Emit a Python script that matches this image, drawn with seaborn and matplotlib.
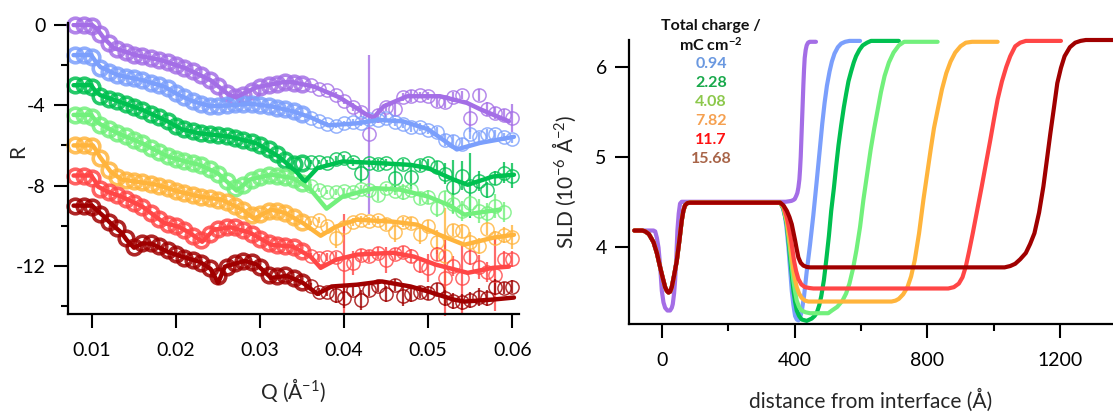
import numpy as np
import matplotlib
matplotlib.use("Agg")
import matplotlib.pyplot as plt
import seaborn as sns

# ---------------- data: reflectivity (left panel) ----------------
q_data = [0.008, 0.009, 0.010, 0.011, 0.012, 0.013, 0.014, 0.015, 0.016, 0.017,
          0.018, 0.019, 0.020, 0.021, 0.022, 0.023, 0.024, 0.025, 0.026, 0.027,
          0.028, 0.029, 0.030, 0.031, 0.032, 0.033, 0.034, 0.035, 0.036, 0.037,
          0.038, 0.039, 0.040, 0.041, 0.042, 0.043, 0.044, 0.045, 0.046, 0.047,
          0.048, 0.049, 0.050, 0.051, 0.052, 0.053, 0.054, 0.055, 0.056, 0.057,
          0.058, 0.059, 0.060]

r_purple = [0.0, 0.0, -0.05, -0.45, -0.9, -1.2, -1.35, -1.47, -1.55, -1.63,
            -1.72, -1.83, -1.97, -2.12, -2.3, -2.5, -2.72, -3.05, -3.38, -3.6,
            -3.5, -3.3, -3.1, -3.0, -2.92, -2.85, -2.88, -2.95, -3.0, -3.2,
            -3.25, -3.5, -3.8, -4.1, -4.35, -5.45, -4.5, -4.1, -4.2, -3.6,
            -3.55, -3.5, -3.55, -3.8, -3.85, -3.6, -3.5, -4.65, -3.5, -4.2,
            -4.4, -4.5, -4.65]
e_purple = [0] * 28 + [0, 0, 0, 0.15, 0.15, 0.2, 0.25, 3.95, 0.3, 0.2, 0.35, 0.2, 0.3,
                       0.15, 0.2, 0.3, 0.3, 0.25, 0.2, 0.7, 0.3, 0.35, 0.3, 0.3, 0.7]

r_blue = [-1.5, -1.5, -1.6, -2.12, -2.33, -2.47, -2.58, -2.66, -2.75, -2.87,
          -3.0, -3.15, -3.38, -3.6, -3.78, -3.93, -4.03, -4.02, -3.98, -3.95,
          -3.93, -3.92, -3.97, -4.03, -4.12, -4.2, -4.3, -4.42, -4.62, -4.8,
          -4.95, -5.05, -4.9, -4.85, -4.9, -4.7, -4.75, -4.65, -4.85, -4.95,
          -5.1, -5.1, -5.25, -5.35, -5.75, -5.8, -5.95, -5.45, -5.6, -5.45,
          -5.45, -5.6, -5.7]
e_blue = [0] * 28 + [0, 0, 0.1, 0.1, 0.1, 0.15, 0.15, 0.15, 0.15, 0.15, 0.2, 0.2, 0.25,
                     0.2, 0.2, 0.25, 0.3, 0.3, 0.3, 0.25, 0.25, 0.25, 0.2, 0.2, 0.2]

r_green = [-3.0, -3.0, -3.08, -3.55, -3.68, -3.79, -3.92, -4.07, -4.23, -4.42,
           -4.6, -4.8, -5.03, -5.2, -5.3, -5.4, -5.45, -5.5, -5.55, -5.62,
           -5.72, -5.85, -6.0, -6.2, -6.45, -6.75, -6.95, -6.9, -6.85, -6.85,
           -6.9, -6.7, -6.65, -6.85, -7.35, -6.9, -6.95, -6.9, -7.6, -6.95,
           -7.55, -7.0, -6.9, -7.1, -7.4, -8.05, -7.5, -8.0, -7.75, -8.2,
           -7.6, -7.35, -7.5]
e_green = [0] * 28 + [0.1, 0.1, 0.15, 0.15, 0.15, 0.2, 0.5, 0.2, 0.25, 0.2, 0.7, 0.25,
                      0.6, 0.25, 0.2, 0.3, 0.5, 1.3, 0.7, 1.6, 0.5, 0.4, 0.35, 0.5, 0.6]

r_lgreen = [-4.48, -4.48, -4.58, -5.0, -5.2, -5.38, -5.55, -5.72, -5.9, -6.13,
            -6.35, -6.55, -6.68, -6.8, -6.9, -7.0, -7.18, -7.4, -7.75, -8.1,
            -7.95, -7.7, -7.55, -7.47, -7.5, -7.55, -7.65, -7.85, -8.0, -8.2,
            -8.3, -8.3, -8.25, -8.3, -8.15, -8.2, -8.45, -8.1, -8.25, -8.3,
            -8.2, -8.6, -8.55, -9.1, -8.55, -8.9, -9.25, -8.85, -9.25, -9.35,
            -9.0, -9.3, np.nan]
e_lgreen = [0] * 28 + [0.1, 0.1, 0.1, 0.15, 0.15, 0.15, 0.2, 0.2, 0.3, 0.2, 0.2, 0.4,
                       0.2, 0.3, 0.35, 0.45, 0.3, 0.5, 0.5, 0.3, 0.6, 0.5, 0.6, 0.5, 0]

r_orange = [-6.0, -6.0, -6.05, -6.65, -7.2, -7.55, -7.72, -7.79, -7.84, -7.91,
            -8.0, -8.13, -8.25, -8.35, -8.45, -8.55, -8.62, -8.7, -8.8, -9.0,
            -9.2, -9.45, -9.4, -9.25, -9.25, -9.35, -9.55, -9.8, -9.85, -9.7,
            -10.0, -10.6, -10.05, -9.8, -9.7, -9.75, -9.7, -9.9, -10.3, -9.8,
            -9.85, -10.4, -10.0, -10.8, -11.5, -10.2, -10.25, -10.8, -11.0, -10.15,
            -10.6, -10.45, -10.55]
e_orange = [0] * 28 + [0.1, 0.15, 0.2, 0.5, 0.2, 0.2, 0.2, 0.2, 0.2, 0.3, 0.5, 0.25,
                       0.3, 0.5, 0.3, 0.6, 2.4, 0.3, 0.35, 0.5, 0.4, 0.3, 0.35, 0.4, 0.6]

r_red = [-7.5, -7.5, -7.6, -8.15, -8.33, -8.48, -8.65, -8.85, -9.05, -9.35,
         -9.68, -9.9, -10.02, -10.2, -10.5, -10.7, -10.4, -10.15, -10.08, -10.05,
         -10.2, -10.4, -10.65, -10.85, -10.95, -11.0, -11.05, -11.25, -11.5, -11.6,
         -11.55, -11.55, -11.9, -11.85, -11.45, -11.5, -11.35, -11.7, -11.4, -11.3,
         -11.5, -11.95, -12.1, -11.4, -12.6, -12.0, -12.6, -11.55, -12.05, -12.3,
         -12.45, -11.65, -11.65]
e_red = [0] * 28 + [0.15, 0.2, 0.2, 0.25, 2.5, 0.6, 0.3, 0.3, 0.3, 0.65, 0.3, 0.3,
                    0.35, 0.4, 0.7, 0.35, 1.9, 0.5, 1.75, 0.4, 0.6, 0.5, 1.8, 0.4, 0.4]

r_dred = [-9.0, -9.0, -9.05, -9.4, -9.8, -10.1, -10.6, -11.05, -10.88, -10.87,
          -11.0, -11.2, -11.4, -11.6, -11.7, -11.85, -12.1, -12.5, -12.05, -11.85,
          -11.75, -11.8, -12.05, -12.45, -12.5, -12.45, -12.6, -12.8, -13.0, -13.3,
          -13.3, -13.45, -13.6, -13.2, -13.7, -13.2, -13.0, -13.4, -12.95, -13.5,
          -13.4, -13.3, -13.35, -13.15, -13.6, -13.75, -13.8, -13.7, -13.55, -13.6,
          -13.07, -13.1, -13.03]
e_dred = [0] * 28 + [0.15, 0.2, 0.2, 0.4, 0.5, 0.3, 0.5, 0.3, 0.3, 0.4, 0.3, 0.5,
                     0.4, 0.3, 0.35, 0.3, 0.4, 0.4, 0.4, 0.4, 0.45, 0.4, 0.4, 0.3, 0.3]

# fitted reflectivity curves
qf_purple = [0.0078, 0.0100, 0.0106, 0.0114, 0.0126, 0.0152, 0.0182, 0.0211, 0.0241, 0.0262,
             0.0271, 0.0296, 0.0327, 0.0339, 0.0364, 0.0394, 0.0415, 0.0426, 0.0435, 0.0447,
             0.0475, 0.0514, 0.0546, 0.0562, 0.0596]
rf_purple = [0, 0, -0.2, -0.65, -1.15, -1.5, -1.75, -2.15, -2.75, -3.45,
             -3.6, -3.1, -2.85, -2.85, -3.07, -3.6, -4.15, -4.45, -4.62, -4.05,
             -3.55, -3.55, -3.88, -4.2, -4.8]

qf_blue = [0.0078, 0.0099, 0.0104, 0.0110, 0.0131, 0.016, 0.0186, 0.0203, 0.022, 0.0241,
           0.0267, 0.0288, 0.0313, 0.0339, 0.036, 0.0381, 0.0415, 0.0441, 0.047, 0.05,
           0.0534, 0.0562, 0.0602]
rf_blue = [-1.5, -1.5, -1.8, -2.1, -2.5, -2.75, -3.07, -3.48, -3.8, -4.05,
           -4.0, -3.92, -4.05, -4.3, -4.6, -5.0, -4.9, -4.73, -4.8, -5.2,
           -6.2, -5.87, -5.57]

qf_green = [0.0078, 0.0099, 0.0104, 0.0110, 0.0131, 0.016, 0.019, 0.0207, 0.0228, 0.0262,
            0.0296, 0.0322, 0.0343, 0.0353, 0.0368, 0.0398, 0.0436, 0.0479, 0.05, 0.053,
            0.0547, 0.0577, 0.0602]
rf_green = [-3.0, -3.0, -3.3, -3.5, -3.8, -4.23, -4.8, -5.2, -5.4, -5.55,
            -5.9, -6.55, -7.3, -7.8, -7.13, -6.8, -6.87, -6.97, -7.13, -7.7,
            -7.96, -7.55, -7.46]

qf_lgreen = [0.0078, 0.0099, 0.0104, 0.0110, 0.0131, 0.016, 0.019, 0.0211, 0.0228, 0.025,
             0.0272, 0.0288, 0.0313, 0.0339, 0.036, 0.0379, 0.0398, 0.0436, 0.0466, 0.05,
             0.0526, 0.0543, 0.0568, 0.0585]
rf_lgreen = [-4.48, -4.48, -4.75, -4.95, -5.4, -5.9, -6.55, -6.8, -6.97, -7.4,
             -8.25, -7.7, -7.46, -7.63, -8.2, -9.15, -8.55, -8.13, -8.2, -8.55,
             -9.0, -9.45, -9.3, -9.2]

qf_orange = [0.0078, 0.0101, 0.0105, 0.0109, 0.0122, 0.0135, 0.0152, 0.0177, 0.0203, 0.0228,
             0.0254, 0.0279, 0.0293, 0.0313, 0.033, 0.0351, 0.0372, 0.039, 0.0415, 0.0458,
             0.0487, 0.0513, 0.0543, 0.0577, 0.0602]
rf_orange = [-6.0, -6.0, -6.25, -6.55, -7.3, -7.7, -7.8, -7.96, -8.3, -8.55,
             -8.7, -9.2, -9.65, -9.2, -9.37, -9.87, -10.5, -10.05, -9.7, -9.8,
             -9.95, -10.45, -10.95, -10.6, -10.45]

qf_red = [0.0078, 0.0099, 0.0104, 0.0107, 0.0118, 0.0135, 0.016, 0.0186, 0.0203, 0.0216,
          0.0231, 0.0245, 0.0265, 0.0288, 0.0313, 0.0339, 0.036, 0.0372, 0.039, 0.0415,
          0.0458, 0.0483, 0.0509, 0.0547, 0.0577, 0.0596]
rf_red = [-7.5, -7.5, -7.8, -8.05, -8.3, -8.55, -9.05, -9.87, -10.05, -10.35,
          -10.8, -10.2, -10.08, -10.35, -10.95, -11.04, -11.54, -12.1, -11.7, -11.44,
          -11.35, -11.54, -11.94, -12.35, -12.1, -12.04]

qf_dred = [0.0078, 0.0100, 0.0105, 0.0113, 0.0122, 0.0135, 0.0141, 0.0150, 0.0160, 0.0171,
           0.019, 0.0207, 0.0228, 0.0241, 0.0250, 0.0258, 0.0282, 0.0296, 0.0313, 0.0332,
           0.0351, 0.0368, 0.0385, 0.0415, 0.0445, 0.0479, 0.05, 0.053, 0.0543, 0.0577,
           0.0602]
rf_dred = [-9.0, -9.0, -9.2, -9.5, -9.87, -10.35, -10.7, -11.1, -10.88, -10.9,
           -11.3, -11.54, -11.8, -12.15, -12.85, -12.04, -11.75, -11.94, -12.6, -12.5,
           -12.85, -13.4, -13.03, -12.94, -12.78, -13.03, -13.28, -13.68, -13.78, -13.68,
           -13.58]

# ---------------- data: SLD profiles (right panel) ----------------
d_base = [-84, -60, -51, -40, -26, -16, -6, 2, 9, 14, 19, 24, 29, 36, 44, 52, 59, 64, 69,
          76, 84, 356]
s_base = [4.18, 4.18, 4.17, 4.14, 4.05, 3.93, 3.77, 3.65, 3.55, 3.51, 3.49, 3.5, 3.55,
          3.68, 3.84, 4.07, 4.29, 4.40, 4.46, 4.485, 4.49, 4.49]

d_purple = [-84, -26, -21, -16, -11, -6, -1, 4, 9, 16, 24, 29, 32, 36, 39, 43, 46, 50, 54,
            59, 64, 373, 382, 390, 396, 400, 405, 408, 411, 414, 416, 418, 420, 422, 424,
            426, 428, 430, 433, 436, 440, 445, 464]
s_purple = [4.18, 4.18, 4.17, 4.1, 3.99, 3.78, 3.51, 3.38, 3.32, 3.29, 3.29, 3.32, 3.36,
            3.48, 3.62, 3.9, 4.18, 4.37, 4.48, 4.5, 4.5, 4.5, 4.505, 4.51, 4.52, 4.53,
            4.57, 4.6, 4.66, 4.75, 4.86, 5.0, 5.2, 5.4, 5.6, 5.8, 5.97, 6.1, 6.19, 6.24,
            6.27, 6.28, 6.28]
d_blue = [362, 371, 376, 381, 386, 391, 396, 401, 406, 411, 416, 421, 428, 436, 446, 456,
          466, 476, 483, 490, 497, 505, 512, 520, 530, 540, 552, 565, 597]
s_blue = [4.46, 4.33, 4.18, 3.99, 3.75, 3.51, 3.35, 3.23, 3.19, 3.18, 3.21, 3.28, 3.45,
          3.72, 4.02, 4.35, 4.72, 5.1, 5.37, 5.6, 5.79, 5.95, 6.06, 6.15, 6.22, 6.26, 6.28,
          6.29, 6.29]
d_green = [366, 376, 381, 386, 391, 396, 401, 406, 413, 421, 436, 451, 460, 467, 474, 480,
           488, 495, 503, 510, 518, 525, 532, 540, 548, 555, 562, 570, 578, 585, 595, 605,
           618, 630, 714]
s_green = [4.42, 4.25, 4.07, 3.88, 3.69, 3.51, 3.39, 3.29, 3.23, 3.19, 3.175, 3.2, 3.23,
           3.27, 3.35, 3.45, 3.63, 3.85, 4.12, 4.4, 4.65, 4.9, 5.13, 5.35, 5.55, 5.7, 5.84,
           5.95, 6.05, 6.12, 6.19, 6.24, 6.27, 6.29, 6.29]
d_lgreen = [366, 376, 381, 386, 391, 396, 401, 406, 413, 421, 433, 446, 501, 512, 528, 544,
            555, 565, 576, 586, 597, 607, 618, 629, 640, 650, 660, 671, 684, 698, 714, 730,
            831]
s_lgreen = [4.43, 4.27, 4.12, 3.96, 3.79, 3.62, 3.50, 3.40, 3.33, 3.29, 3.27, 3.26, 3.26,
            3.29, 3.33, 3.40, 3.48, 3.59, 3.76, 3.96, 4.22, 4.52, 4.80, 5.08, 5.32, 5.52,
            5.72, 5.90, 6.05, 6.16, 6.24, 6.28, 6.28]
d_orange = [366, 376, 381, 386, 391, 396, 401, 406, 413, 421, 431, 441, 692, 704, 714, 727,
            740, 751, 762, 775, 788, 799, 810, 820, 831, 844, 857, 870, 884, 900, 916, 935,
            1012]
s_orange = [4.44, 4.29, 4.16, 4.03, 3.88, 3.73, 3.63, 3.55, 3.48, 3.43, 3.40, 3.39, 3.39,
            3.40, 3.42, 3.47, 3.55, 3.67, 3.85, 4.15, 4.52, 4.80, 5.08, 5.32, 5.52, 5.75,
            5.93, 6.06, 6.16, 6.23, 6.27, 6.28, 6.28]
d_red = [366, 376, 382, 388, 393, 398, 404, 411, 420, 431, 445, 456, 863, 880, 895, 906,
         916, 926, 937, 950, 964, 977, 990, 1001, 1012, 1025, 1038, 1050, 1065, 1080, 1097,
         1203]
s_red = [4.45, 4.33, 4.22, 4.10, 3.97, 3.84, 3.73, 3.64, 3.58, 3.55, 3.54, 3.535, 3.535,
         3.55, 3.59, 3.66, 3.78, 3.95, 4.15, 4.40, 4.67, 4.93, 5.19, 5.42, 5.64, 5.84, 6.0,
         6.12, 6.23, 6.27, 6.29, 6.29]
d_dred = [366, 376, 384, 391, 396, 401, 406, 411, 418, 426, 436, 446, 1033, 1050, 1065,
          1080, 1097, 1110, 1123, 1137, 1150, 1160, 1171, 1182, 1192, 1203, 1214, 1230,
          1246, 1262, 1278, 1360]
s_dred = [4.46, 4.40, 4.33, 4.25, 4.16, 4.07, 3.97, 3.88, 3.82, 3.79, 3.775, 3.77, 3.77,
          3.785, 3.81, 3.86, 3.93, 4.03, 4.15, 4.38, 4.67, 4.95, 5.26, 5.55, 5.82, 5.99,
          6.12, 6.22, 6.27, 6.29, 6.3, 6.3]

charge_labels = ["0.94", "2.28", "4.08", "7.82", "11.7", "15.68"]

# ---------------- style ----------------
c_purple, c_blue, c_green = "#a46ee6", "#7b9ffc", "#00c050"
c_lgreen, c_orange, c_red, c_dred = "#72f07c", "#ffb43c", "#ff4646", "#a00000"
label_colors = ["#6a98e0", "#17a84a", "#8cc84b", "#f5a050", "#ff1010", "#a86448"]

sns.set_theme(style="ticks")
plt.rcParams["font.family"] = ["Lato", "DejaVu Sans"]
plt.rcParams["mathtext.fontset"] = "custom"
plt.rcParams["mathtext.rm"] = "Lato"
plt.rcParams["mathtext.it"] = "Lato:italic"
plt.rcParams["mathtext.bf"] = "Lato:bold"
plt.rcParams["axes.unicode_minus"] = False

W, H = 1113, 412
fig = plt.figure(figsize=(W / 100, H / 100), dpi=100)
ax1 = fig.add_axes([68 / W, 1 - 314 / H, 451 / W, (314 - 23) / H])
ax2 = fig.add_axes([629 / W, 1 - 324 / H, (W - 629) / W, (324 - 40) / H])

for ax in (ax1, ax2):
    for s in ("top", "right"):
        ax.spines[s].set_visible(False)
    for s in ("left", "bottom"):
        ax.spines[s].set_linewidth(1.6)
        ax.spines[s].set_color("black")
    ax.tick_params(which="major", direction="out", length=10, width=1.5, color="black",
                   labelsize=14, labelcolor="black")
    ax.tick_params(which="minor", direction="out", length=5, width=1.5, color="black")
    ax.tick_params(axis="x", pad=10)
    ax.tick_params(axis="y", pad=6)
    ax.set_facecolor("white")

# ---- left panel ----
series = [
    (r_purple, e_purple, qf_purple, rf_purple, c_purple),
    (r_blue, e_blue, qf_blue, rf_blue, c_blue),
    (r_green, e_green, qf_green, rf_green, c_green),
    (r_lgreen, e_lgreen, qf_lgreen, rf_lgreen, c_lgreen),
    (r_orange, e_orange, qf_orange, rf_orange, c_orange),
    (r_red, e_red, qf_red, rf_red, c_red),
    (r_dred, e_dred, qf_dred, rf_dred, c_dred),
]
n_low = 28  # dense low-Q part of each data set (drawn as heavier rings)
for r, e, qf, rf, c in series:
    ax1.errorbar(q_data[:n_low], r[:n_low], fmt="o", ms=10.5, mfc="none", mec=c,
                 mew=2.6, alpha=0.85, zorder=2, clip_on=False)
    ax1.errorbar(q_data[n_low:], r[n_low:], yerr=e[n_low:], fmt="o", ms=9.5, mfc="none",
                 mec=c, mew=1.1, ecolor=c, elinewidth=1.6, capsize=0, alpha=0.8,
                 zorder=2, clip_on=False)
for r, e, qf, rf, c in series:
    sns.lineplot(x=qf, y=rf, ax=ax1, color=c, lw=3.2, sort=False, estimator=None,
                 zorder=3)

ax1.set_xlim(0.00714, 0.0608)
ax1.set_ylim(-14.4, 0.1)
ax1.set_xticks([0.01, 0.02, 0.03, 0.04, 0.05, 0.06])
ax1.set_xticklabels(["0.01", "0.02", "0.03", "0.04", "0.05", "0.06"])
ax1.set_yticks([0, -4, -8, -12])
ax1.set_yticklabels(["0", "-4", "-8", "-12"])
ax1.set_yticks([-2, -6, -10, -14], minor=True)
ax1.set_xlabel("Q (Å$^{-1}$)", fontsize=15, labelpad=13)
ax1.set_ylabel("R", fontsize=15)
ax1.yaxis.set_label_coords((28 - 68) / 451, (314 - 152) / 291)

# ---- right panel ----
profiles = [
    (d_purple, s_purple, c_purple),
    (d_base + d_blue, s_base + s_blue, c_blue),
    (d_base + d_green, s_base + s_green, c_green),
    (d_base + d_lgreen, s_base + s_lgreen, c_lgreen),
    (d_base + d_orange, s_base + s_orange, c_orange),
    (d_base + d_red, s_base + s_red, c_red),
    (d_base + d_dred, s_base + s_dred, c_dred),
]
for d, s, c in profiles:
    sns.lineplot(x=d, y=s, ax=ax2, color=c, lw=3.0, sort=False, estimator=None)
for line in ax2.get_lines():
    line.set_clip_on(False)
    line.set_solid_joinstyle("round")

ax2.set_xlim(-100, 1360)
ax2.set_ylim(3.14, 6.3)
ax2.set_xticks([0, 400, 800, 1200])
ax2.set_xticks([200, 600, 1000], minor=True)
ax2.set_yticks([4, 5, 6])
ax2.set_xlabel("distance from interface (Å)", fontsize=15, labelpad=14)
ax2.set_ylabel("SLD (10$^{-6}$ Å$^{-2}$)", fontsize=15)
ax2.yaxis.set_label_coords((578 - 629) / 484, 0.5)

# legend-like annotation
xc = 711 / W
fig.text(xc, 1 - 26 / H, "Total charge /", ha="center", va="center",
         fontsize=11.5, fontweight="bold", color="#111111")
fig.text(xc, 1 - 45 / H, r"mC cm$^{\mathbf{-2}}$", ha="center", va="center",
         fontsize=11.5, fontweight="bold", color="#111111")
for i, (lab, lc) in enumerate(zip(charge_labels, label_colors)):
    fig.text(xc, 1 - (64 + 19 * i) / H, lab, ha="center", va="center",
             fontsize=11.5, fontweight="bold", color=lc)

fig.savefig("out.png", dpi=100, facecolor="white")
